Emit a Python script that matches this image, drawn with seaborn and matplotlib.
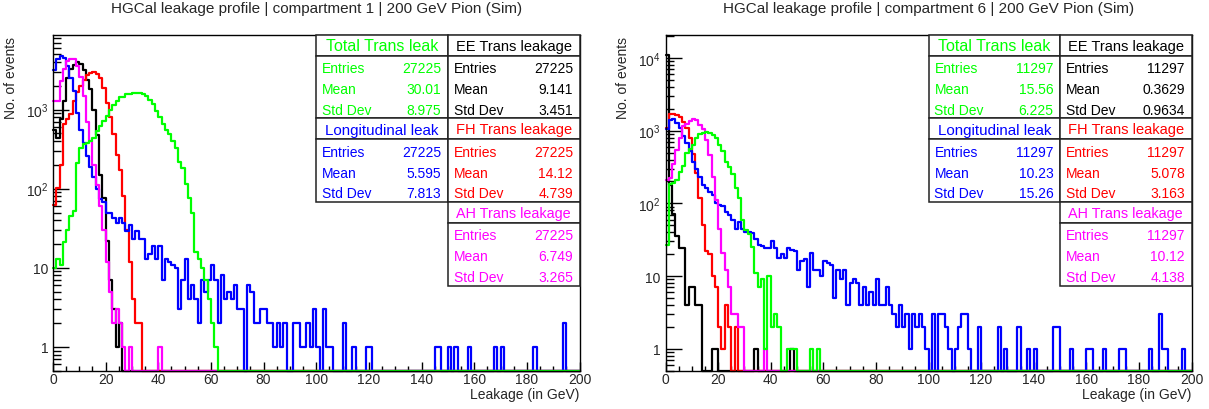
import numpy as np
import pandas as pd
import matplotlib
matplotlib.use("Agg")
import matplotlib.pyplot as plt
import seaborn as sns
from matplotlib.patches import Rectangle
from matplotlib.ticker import MultipleLocator, LogLocator, FuncFormatter, NullFormatter

sns.set_theme(style="white")
plt.rcParams['font.family'] = ['Liberation Sans', 'DejaVu Sans']
plt.rcParams['mathtext.fontset'] = 'custom'
plt.rcParams['mathtext.rm'] = 'Liberation Sans'
plt.rcParams['mathtext.it'] = 'Liberation Sans:italic'

# ---------------- data (bin counts, 160 bins of 1.25 GeV from 0 to 200) ----------------
N_BINS = 160
X_RANGE = (0.0, 200.0)

TITLES = ["HGCal leakage profile | compartment 1 | 200 GeV Pion (Sim)",
          "HGCal leakage profile | compartment 6 | 200 GeV Pion (Sim)"]
X_LABEL = "Leakage (in GeV)"
Y_LABEL = "No. of events"

SERIES_NAMES = ["EE Trans leakage", "FH Trans leakage", "Longitudinal leak",
                "AH Trans leakage", "Total Trans leak"]

# compartment 1
L_EE = [550, 440, 750, 1300, 2500, 3300, 3700, 4000, 3800, 3200, 2400, 1800, 1000, 480, 150, 77,
        22, 7, 3, 1, 2]
L_FH = [63, 103, 200, 650, 750, 870, 1300, 1650, 2000, 2400, 2750, 2900, 2950, 2850, 2500, 1900,
        1200, 800, 490, 270, 170, 80, 30, 12, 4, 2, 2]
L_AH = [1300, 1300, 2300, 3300, 4100, 4300, 4300, 3600, 2600, 1500, 700, 400, 200, 110, 60, 30,
        12, 5, 2, 3, 2, 1, 0, 1, 0, 0, 0, 0, 0, 0, 0, 0, 1]
L_LONG = [3200, 4400, 4700, 4500, 3600, 2500, 1700, 900, 550, 380, 260, 190, 140, 100, 75, 68, 50, 50, 43, 37,
          43, 37, 29, 35, 23, 29, 23, 23, 13, 15, 19, 13, 19, 7, 13, 12, 11, 10, 3, 7,
          13, 4, 6, 4, 2, 7, 5, 7, 11, 7, 2, 8, 4, 5, 4, 6, 3, 3, 0, 6,
          5, 2, 2, 3, 3, 2, 2, 1, 2, 1, 2, 0, 0, 2, 2, 1, 1, 2, 1, 3,
          1, 0, 3, 1, 1, 0, 0, 0, 2, 0, 0, 1, 0, 0, 0, 1, 1, 0, 0, 0,
          0, 0, 0, 0, 0, 0, 0, 0, 0, 0, 0, 0, 0, 0, 0, 0, 1, 1, 0, 0,
          1, 0, 1, 0, 0, 0, 1, 0, 0, 0, 0, 0, 0, 0, 1, 0, 1, 0, 0, 0,
          0, 0, 0, 0, 0, 0, 1, 0, 0, 0, 0, 0, 0, 0, 0, 2, 0, 0, 0, 0]
L_TOTAL = [10, 13, 11, 21, 30, 45, 52, 213, 330, 364, 380, 400, 440, 540, 620, 720, 840, 980, 1140, 1280,
           1430, 1450, 1560, 1580, 1620, 1640, 1600, 1560, 1500, 1340, 1180, 950, 800, 650, 560, 490,
           400, 330, 220, 185, 113, 77, 50, 16, 13, 10, 7, 4, 2, 1]

# compartment 6
R_EE = [10900, 180, 72, 36, 24, 24, 4, 7, 7, 4, 4, 0, 0, 0, 1, 1,
        0, 0, 0, 0, 0, 0, 0, 0, 0, 0, 0, 1, 0, 0, 0, 0, 0, 0, 0, 0, 0, 0, 1]
R_FH = [1100, 1700, 1700, 1650, 1550, 1300, 1100, 800, 480, 260, 120, 50, 22, 20, 10, 7, 2, 1, 4, 2, 0, 2]
R_AH = [210, 220, 350, 550, 800, 1150, 1250, 1350, 1450, 1400, 1200, 1050, 750, 460, 230, 110,
        45, 21, 12, 7, 3, 3, 2, 2, 0, 0, 0, 0, 0, 0, 1]
R_LONG = [1070, 1400, 1450, 1260, 1100, 840, 680, 520, 375, 300, 230, 180, 165, 145, 130, 100, 96, 92, 75, 70,
          59, 45, 55, 45, 41, 41, 39, 32, 27, 26, 24, 24, 30, 24, 18, 20, 18, 24, 23, 22,
          12, 16, 17, 7, 21, 12, 12, 10, 16, 15, 14, 5, 12, 9, 12, 4, 8, 9, 8, 4,
          7, 4, 6, 4, 9, 4, 4, 7, 4, 3, 2, 4, 2, 3, 1, 3, 2, 3, 2, 1,
          0, 3, 0, 3, 3, 2, 1, 0, 1, 2, 3, 3, 1, 0, 0, 2, 0, 0, 0, 0,
          0, 2, 0, 1, 0, 0, 0, 2, 0, 0, 1, 0, 1, 0, 0, 0, 0, 0, 2, 2,
          0, 0, 0, 1, 0, 0, 0, 0, 1, 1, 0, 0, 0, 1, 0, 0, 0, 0, 1, 1,
          0, 0, 0, 0, 0, 0, 0, 1, 0, 0, 3, 1, 1, 0, 0, 0, 0, 1, 0, 0]
R_TOTAL = [27, 185, 190, 210, 270, 330, 490, 560, 640, 800, 890, 920, 950, 920, 870, 800, 640, 530, 375, 320,
           250, 165, 117, 60, 43, 38, 25, 11, 7, 9, 1, 10, 2, 3, 2, 0, 0, 1, 1, 1, 0, 0, 0, 0, 1, 0, 1]

# stat box numbers: (entries, mean, std dev) as printed
L_STATS = {"Total Trans leak": ("27225", "30.01", "8.975"),
           "EE Trans leakage": ("27225", "9.141", "3.451"),
           "Longitudinal leak": ("27225", "5.595", "7.813"),
           "FH Trans leakage": ("27225", "14.12", "4.739"),
           "AH Trans leakage": ("27225", "6.749", "3.265")}
R_STATS = {"Total Trans leak": ("11297", "15.56", "6.225"),
           "EE Trans leakage": ("11297", "0.3629", "0.9634"),
           "Longitudinal leak": ("11297", "10.23", "15.26"),
           "FH Trans leakage": ("11297", "5.078", "3.163"),
           "AH Trans leakage": ("11297", "10.12", "4.138")}

# ---------------- style ----------------
COLORS = {"EE Trans leakage": "#000000", "FH Trans leakage": "#ff0000",
          "Longitudinal leak": "#0000ff", "AH Trans leakage": "#ff00ff",
          "Total Trans leak": "#00ff00"}
TITLE_SIZES = {"Total Trans leak": 11.5, "EE Trans leakage": 10.5, "Longitudinal leak": 10.9,
               "FH Trans leakage": 10.5, "AH Trans leakage": 10.4}

W, H, DPI = 1209, 410, 100
fig = plt.figure(figsize=(W / DPI, H / DPI), dpi=DPI)
fig.patch.set_facecolor("white")

AX_PX = [(53, 35.5, 579.5, 371.7), (665.5, 35.5, 1191.5, 371.7)]
YLIMS = [(0.5, 8900), (0.5, 21000)]
PANELS = [
    {"EE Trans leakage": L_EE, "FH Trans leakage": L_FH, "Longitudinal leak": L_LONG,
     "AH Trans leakage": L_AH, "Total Trans leak": L_TOTAL},
    {"EE Trans leakage": R_EE, "FH Trans leakage": R_FH, "Longitudinal leak": R_LONG,
     "AH Trans leakage": R_AH, "Total Trans leak": R_TOTAL},
]
STATS = [L_STATS, R_STATS]
YLAB_X = [-0.0665, -0.068]

edges = np.linspace(X_RANGE[0], X_RANGE[1], N_BINS + 1)


def ytick_fmt(v, pos):
    if v <= 0:
        return ""
    e = int(round(np.log10(v)))
    if e == 0:
        return "1"
    if e == 1:
        return "10"
    return r"$\mathregular{10^{%d}}$" % e


def draw_stat_box(ax, px_w, px_h, x0, x1, ytop, name, vals):
    color = COLORS[name]
    t_h = 0.0625
    s_h = 0.1865
    kw = dict(transform=ax.transAxes, clip_on=False, zorder=10)
    ax.add_patch(Rectangle((x0, ytop - t_h), x1 - x0, t_h, fc="white", ec="#222222", lw=1.1, **kw))
    ax.add_patch(Rectangle((x0, ytop - t_h - s_h), x1 - x0, s_h, fc="white", ec="#222222", lw=1.1, **kw))
    fs = TITLE_SIZES[name]
    base = 0.358 * fs * DPI / 72.0 / px_h
    ax.text((x0 + x1) / 2, ytop - t_h / 2 - base + 0.5 / px_h, name, color=color, fontsize=fs,
            ha="center", va="baseline", transform=ax.transAxes, zorder=11)
    labels = ["Entries", "Mean", "Std Dev"]
    base = 0.358 * 10 * DPI / 72.0 / px_h
    for i, (lab, val) in enumerate(zip(labels, vals)):
        yc = ytop - t_h - s_h * (i + 0.5) / 3 - 1.0 / px_h
        ax.text(x0 + 6.0 / px_w, yc - base, lab, color=color, fontsize=10, ha="left",
                va="baseline", transform=ax.transAxes, zorder=11)
        ax.text(x1 - 6.6 / px_w, yc - base, val, color=color, fontsize=10, ha="right",
                va="baseline", transform=ax.transAxes, zorder=11)


for p, (x0, y0, x1, y1) in enumerate(AX_PX):
    ax = fig.add_axes([x0 / W, 1 - y1 / H, (x1 - x0) / W, (y1 - y0) / H])
    px_w, px_h = x1 - x0, y1 - y0
    ax.set_facecolor("white")
    ax.set_yscale("log")
    ymin, ymax = YLIMS[p]
    for name in ["EE Trans leakage", "FH Trans leakage", "Longitudinal leak",
                 "AH Trans leakage", "Total Trans leak"]:
        counts = np.zeros(N_BINS)
        vals = PANELS[p][name]
        counts[:len(vals)] = vals
        y = np.append(np.maximum(counts, ymin), max(counts[-1], ymin))
        df = pd.DataFrame({"x": edges, "y": y})
        sns.lineplot(data=df, x="x", y="y", ax=ax, color=COLORS[name], lw=1.6,
                     drawstyle="steps-post", estimator=None, sort=False, clip_on=False)
    ax.set_xlim(*X_RANGE)
    ax.set_ylim(ymin, ymax)

    ax.xaxis.set_major_locator(MultipleLocator(20))
    ax.xaxis.set_minor_locator(MultipleLocator(5))
    ax.yaxis.set_major_locator(LogLocator(base=10, numticks=20))
    ax.yaxis.set_minor_locator(LogLocator(base=10, subs=np.arange(2, 10), numticks=40))
    ax.yaxis.set_major_formatter(FuncFormatter(ytick_fmt))
    ax.yaxis.set_minor_formatter(NullFormatter())
    ax.tick_params(axis="x", which="major", direction="in", length=6.7, width=1, color="black",
                   labelsize=10, pad=1.2, bottom=True, top=False)
    ax.tick_params(axis="x", which="minor", direction="in", length=3.6, width=1, color="black",
                   bottom=True, top=False)
    ax.tick_params(axis="y", which="major", direction="in", length=11.3, width=1, color="black",
                   labelsize=10, pad=3.4, left=True, right=False)
    ax.tick_params(axis="y", which="minor", direction="in", length=5.8, width=1, color="black",
                   left=True, right=False)
    for sp in ax.spines.values():
        sp.set_color("black")
        sp.set_linewidth(1.0)
    ax.grid(False)

    ax.set_xlabel(X_LABEL, fontsize=10, loc="right")
    ax.xaxis.set_label_coords(1.0, -0.0475)
    ax.set_ylabel(Y_LABEL, fontsize=10, loc="top")
    ax.yaxis.set_label_coords(YLAB_X[p], 0.997)

    fig.text((x0 + x1) / 2 / W, 1 - 13.3 / H, TITLES[p], fontsize=11, ha="center", va="baseline")

    st = STATS[p]
    draw_stat_box(ax, px_w, px_h, 0.5, 0.75, 1.0, "Total Trans leak", st["Total Trans leak"])
    draw_stat_box(ax, px_w, px_h, 0.75, 1.0, 1.0, "EE Trans leakage", st["EE Trans leakage"])
    draw_stat_box(ax, px_w, px_h, 0.5, 0.75, 0.751, "Longitudinal leak", st["Longitudinal leak"])
    draw_stat_box(ax, px_w, px_h, 0.75, 1.0, 0.751, "FH Trans leakage", st["FH Trans leakage"])
    draw_stat_box(ax, px_w, px_h, 0.75, 1.0, 0.502, "AH Trans leakage", st["AH Trans leakage"])

fig.savefig("out.png", dpi=DPI, facecolor="white")
